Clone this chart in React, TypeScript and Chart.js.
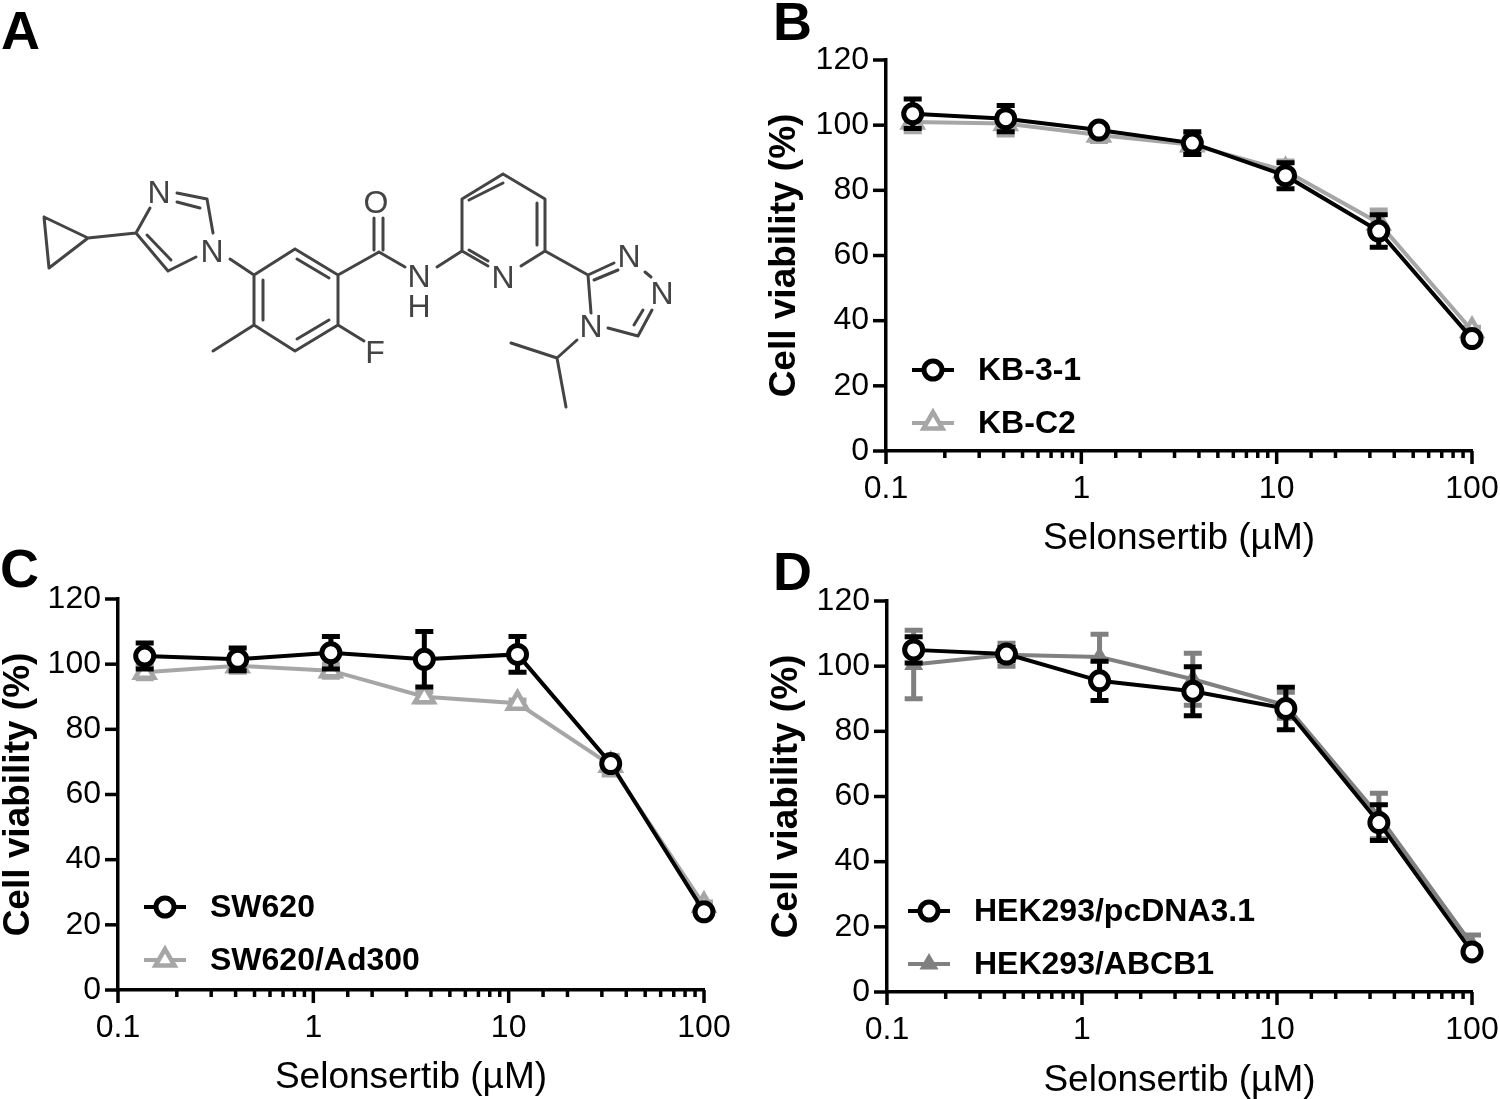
import React, { useEffect, useRef } from "react";
import { Chart, registerables } from "chart.js";
import { drawPoint } from "chart.js/helpers";

Chart.register(...registerables);

const SANS = '"Liberation Sans", Arial, sans-serif';
const NARROW = '"Liberation Sans Narrow", "Liberation Sans", sans-serif';

const doses = [0.137, 0.41, 1.23, 3.7, 11.1, 33.3, 100];
const xTickLabels = ["0.1", "1", "10", "100"];
const xTitle = "Selonsertib (µM)";
const yTitle = "Cell viability (%)";

const kb31Values = [103.5, 102, 98.5, 94.5, 84.5, 67.5, 34.5];
const kb31Errors = [4.5, 4, 1.5, 3.5, 4, 5, 1];
const kbC2Values = [101, 100.5, 97, 94, 86, 70, 37];
const kbC2Errors = [3, 3.5, 2, 3, 3, 4, 1];

const sw620Values = [102.5, 101.5, 103.5, 101.5, 103, 69.5, 24];
const sw620Errors = [4, 3.5, 5, 8.5, 5.5, 1, 1];
const ad300Values = [97.5, 99.5, 98, 90, 88, 69, 26];
const ad300Errors = [2, 2, 2, 1.5, 1, 3, 1];

const pcdnaValues = [105, 103.7, 95.5, 92.3, 87, 52, 12.3];
const pcdnaErrors = [4, 2, 6, 7.5, 6.5, 5.5, 1.5];
const abcb1Values = [100.5, 103.5, 102.8, 96, 88, 54, 14.5];
const abcb1Errors = [10.5, 3.5, 7, 8, 4, 7, 3];

// Molecule of panel A, in the units of its own hidden x / y scales.
const moleculeBonds: number[][] = [
  [44, 217, 49, 268], [49, 268, 88, 238], [88, 238, 44, 217], [88, 238, 136, 233],
  [136, 233, 150, 208], [177, 193, 207, 199], [177, 202, 200, 208], [207, 199, 213, 233],
  [196, 257, 168, 271], [168, 271, 136, 233], [171, 260, 147, 235], [230, 259, 254, 275],
  [254, 275, 295, 249], [295, 249, 338, 275], [338, 275, 338, 325], [338, 325, 295, 351],
  [295, 351, 254, 325], [254, 325, 254, 275], [297, 259, 329, 278], [263, 280, 263, 320],
  [297, 339, 329, 320], [254, 325, 213, 351], [338, 325, 364, 341], [338, 275, 379, 252],
  [374, 250, 374, 218], [383, 250, 383, 218], [379, 252, 405, 267], [437, 267, 462, 251],
  [462, 251, 462, 199], [462, 199, 503, 174], [503, 174, 545, 199], [545, 199, 545, 251],
  [545, 251, 521, 266], [462, 251, 488, 266], [469, 250, 488, 261], [469, 200, 503, 183],
  [537, 203, 537, 245], [545, 251, 588, 275], [588, 275, 614, 263], [594, 280, 618, 270],
  [645, 272, 651, 277], [652, 310, 638, 336], [643, 310, 634, 325], [638, 336, 608, 328],
  [591, 313, 588, 275], [577, 340, 557, 358], [557, 358, 511, 343], [557, 358, 566, 407],
];
const moleculeAtoms: [string, number, number][] = [
  ["N", 159, 193], ["N", 212, 252], ["O", 376, 203], ["N", 419, 277], ["H", 419, 307],
  ["F", 375, 353], ["N", 503, 278], ["N", 629, 257], ["N", 662, 294], ["N", 591, 327],
];

const BLACK = "#000000";
const LIGHT = "#a6a6a6";
const DARK = "#808080";

const errorBarPlugin = {
  id: "errorBars",
  beforeDatasetDraw(chart: any, args: any) {
    const ds = chart.data.datasets[args.index];
    if (!ds.errors) return;
    const { x, y } = chart.scales;
    const c = chart.ctx;
    c.save();
    c.strokeStyle = ds.borderColor;
    c.lineWidth = 5;
    ds.data.forEach((p: any, i: number) => {
      const px = x.getPixelForValue(p.x);
      const hi = y.getPixelForValue(p.y + ds.errors[i]);
      const lo = y.getPixelForValue(p.y - ds.errors[i]);
      c.beginPath();
      c.moveTo(px, hi); c.lineTo(px, lo);
      c.moveTo(px - 9, hi); c.lineTo(px + 9, hi);
      c.moveTo(px - 9, lo); c.lineTo(px + 9, lo);
      c.stroke();
    });
    c.restore();
  },
};

const tickMarkPlugin = {
  id: "tickMarks",
  afterDatasetsDraw(chart: any) {
    const { x, y } = chart.scales;
    const { left, bottom } = chart.chartArea;
    const c = chart.ctx;
    c.save();
    c.strokeStyle = BLACK;
    c.lineWidth = 3.5;
    x.ticks.forEach((t: any) => {
      const major = xTickLabels.includes(String(t.value));
      const px = x.getPixelForValue(t.value);
      c.beginPath();
      c.moveTo(px, bottom);
      c.lineTo(px, bottom + (major ? 13 : 7));
      c.stroke();
    });
    y.ticks.forEach((t: any) => {
      const py = y.getPixelForValue(t.value);
      c.beginPath();
      c.moveTo(left, py);
      c.lineTo(left - 13, py);
      c.stroke();
    });
    c.restore();
  },
};

const legendPlugin = {
  id: "panelLegend",
  afterDraw(chart: any, _a: any, opts: any) {
    const c = chart.ctx;
    c.save();
    chart.data.datasets.forEach((ds: any, i: number) => {
      const y = opts.y + i * 53;
      c.strokeStyle = ds.borderColor;
      c.lineWidth = 4;
      c.beginPath();
      c.moveTo(opts.x, y);
      c.lineTo(opts.x + 42, y);
      c.stroke();
      c.fillStyle = ds.pointBackgroundColor;
      c.strokeStyle = ds.pointBorderColor;
      c.lineWidth = ds.pointBorderWidth;
      drawPoint(c, { pointStyle: ds.pointStyle, rotation: 0, radius: ds.pointRadius, borderWidth: ds.pointBorderWidth }, opts.x + 21, y);
      c.fillStyle = BLACK;
      c.font = `bold 32px ${SANS}`;
      c.textAlign = "left";
      c.textBaseline = "middle";
      c.fillText(ds.label, opts.x + 66, y + 1);
    });
    c.restore();
  },
};

const moleculeLabelPlugin = {
  id: "moleculeLabels",
  afterDraw(chart: any) {
    const { x, y } = chart.scales;
    const c = chart.ctx;
    c.save();
    c.font = `32px ${NARROW}`;
    c.fillStyle = "#444444";
    c.textAlign = "center";
    c.textBaseline = "middle";
    moleculeAtoms.forEach(([label, ax, ay]) => {
      c.fillText(label, x.getPixelForValue(ax), y.getPixelForValue(ay) + 1);
    });
    c.restore();
  },
};

function toPoints(values: number[]) {
  return values.map((v, i) => ({ x: doses[i], y: v }));
}

function series(label: string, values: number[], errors: number[], kind: "circle" | "hollow" | "solid", color: string) {
  const style = {
    circle: { pointStyle: "circle", pointRadius: 9, pointBackgroundColor: "#ffffff", pointBorderWidth: 5 },
    hollow: { pointStyle: "triangle", pointRadius: 11, pointBackgroundColor: "#ffffff", pointBorderWidth: 4.5 },
    solid: { pointStyle: "triangle", pointRadius: 9, pointBackgroundColor: color, pointBorderWidth: 2 },
  }[kind];
  return {
    label,
    data: toPoints(values),
    errors,
    borderColor: color,
    pointBorderColor: color,
    borderWidth: 4,
    clip: false,
    showLine: true,
    ...style,
  };
}

type Panel = {
  left: number; top: number; width: number; height: number;
  axisWidth: number; axisHeight: number; rightPad: number; xTitleGap: number; yTitleGap: number;
  legendX: number; legendY: number; datasets: any[];
};

const panels: Panel[] = [
  {
    left: 760, top: 40, width: 740, height: 520, axisWidth: 126, axisHeight: 109, rightPad: 28, xTitleGap: -1, yTitleGap: 3,
    legendX: 152, legendY: 330,
    datasets: [
      series("KB-3-1", kb31Values, kb31Errors, "circle", BLACK),
      series("KB-C2", kbC2Values, kbC2Errors, "hollow", LIGHT),
    ],
  },
  {
    left: 0, top: 579, width: 732, height: 520, axisWidth: 118, axisHeight: 109, rightPad: 28, xTitleGap: -1, yTitleGap: -3,
    legendX: 144, legendY: 328,
    datasets: [
      series("SW620", sw620Values, sw620Errors, "circle", BLACK),
      series("SW620/Ad300", ad300Values, ad300Errors, "hollow", LIGHT),
    ],
  },
  {
    left: 761, top: 581, width: 739, height: 518, axisWidth: 126, axisHeight: 107, rightPad: 28, xTitleGap: -4, yTitleGap: 4,
    legendX: 147, legendY: 330,
    datasets: [
      series("HEK293/pcDNA3.1", pcdnaValues, pcdnaErrors, "circle", BLACK),
      series("HEK293/ABCB1", abcb1Values, abcb1Errors, "solid", DARK),
    ],
  },
];

function PanelChart({ panel }: { panel: Panel }) {
  const ref = useRef<HTMLCanvasElement>(null);
  useEffect(() => {
    const chart = new Chart(ref.current!, {
      type: "scatter",
      data: { datasets: panel.datasets },
      plugins: [errorBarPlugin, tickMarkPlugin, legendPlugin],
      options: {
        animation: false,
        responsive: false,
        devicePixelRatio: 1,
        layout: { padding: { top: 20, right: panel.rightPad, left: 0, bottom: 0 } },
        plugins: {
          legend: { display: false },
          tooltip: { enabled: false },
          panelLegend: { x: panel.legendX, y: panel.legendY },
        } as any,
        scales: {
          x: {
            type: "logarithmic",
            min: 0.1,
            max: 100,
            afterFit: (s: any) => {
              s.height = panel.axisHeight;
              s.paddingLeft = 0;
              s.paddingRight = 0;
            },
            grid: { display: false, drawTicks: false },
            border: { display: true, color: BLACK, width: 3.5 },
            ticks: {
              autoSkip: false,
              maxRotation: 0,
              padding: 19,
              color: BLACK,
              font: { family: SANS, size: 32 },
              callback: (v: any) => (xTickLabels.includes(String(v)) ? String(v) : ""),
            },
            title: {
              display: true,
              text: xTitle,
              color: BLACK,
              font: { family: SANS, size: 37 },
              padding: { top: 0, bottom: panel.xTitleGap },
            },
          },
          y: {
            min: 0,
            max: 120,
            afterFit: (s: any) => {
              s.width = panel.axisWidth;
              s.paddingTop = 0;
              s.paddingBottom = 0;
            },
            grid: { display: false, drawTicks: false },
            border: { display: true, color: BLACK, width: 3.5 },
            ticks: { stepSize: 20, padding: 17, color: BLACK, font: { family: SANS, size: 32 } },
            title: {
              display: true,
              text: yTitle,
              color: BLACK,
              font: { family: SANS, size: 37, weight: "bold" },
              padding: { top: panel.yTitleGap, bottom: 0 },
            },
          },
        },
      } as any,
    });
    return () => chart.destroy();
  }, [panel]);
  return (
    <canvas
      ref={ref}
      width={panel.width}
      height={panel.height}
      style={{ position: "absolute", left: panel.left, top: panel.top, display: "block" }}
    />
  );
}

function Molecule() {
  const ref = useRef<HTMLCanvasElement>(null);
  useEffect(() => {
    const points: any[] = [];
    moleculeBonds.forEach(([x1, y1, x2, y2]) => {
      points.push({ x: x1, y: y1 }, { x: x2, y: y2 }, { x: NaN, y: NaN });
    });
    const chart = new Chart(ref.current!, {
      type: "scatter",
      data: {
        datasets: [{
          data: points,
          showLine: true,
          spanGaps: false,
          borderColor: "#444444",
          borderWidth: 3,
          pointRadius: 0,
          borderCapStyle: "round",
        }],
      },
      plugins: [moleculeLabelPlugin],
      options: {
        animation: false,
        responsive: false,
        devicePixelRatio: 1,
        layout: { padding: 0 },
        plugins: { legend: { display: false }, tooltip: { enabled: false } },
        scales: {
          x: { type: "linear", display: false, min: 0, max: 720 },
          y: { type: "linear", display: false, min: 0, max: 430, reverse: true },
        },
      } as any,
    });
    return () => chart.destroy();
  }, []);
  return <canvas ref={ref} width={720} height={430} style={{ position: "absolute", left: 0, top: 0, display: "block" }} />;
}

const letters: [string, number, number][] = [
  ["A", 1, 0],
  ["B", 773, -9],
  ["C", 0, 538],
  ["D", 773, 541],
];

export default function App() {
  return (
    <div style={{ position: "absolute", left: 0, top: 0, width: 1500, height: 1099, overflow: "hidden", background: "#ffffff" }}>
      <Molecule />
      {panels.map((p, i) => <PanelChart key={i} panel={p} />)}
      {letters.map(([t, x, y]) => (
        <div key={t} style={{ position: "absolute", left: x, top: y, font: `bold 54px ${SANS}`, lineHeight: "60px", color: "#000" }}>{t}</div>
      ))}
    </div>
  );
}
